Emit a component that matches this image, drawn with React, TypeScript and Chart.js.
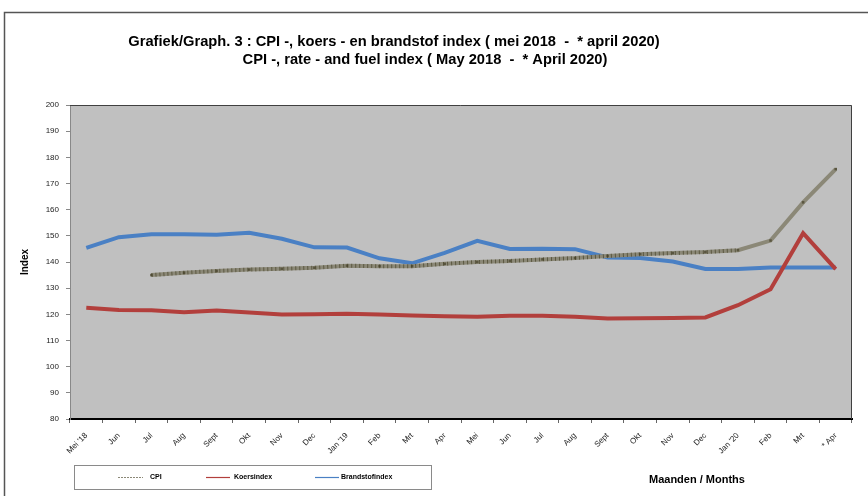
import React, { useEffect, useRef } from "react";
import { Chart, registerables } from "chart.js";

Chart.register(...registerables);

const months = [
  "Mei '18", "Jun", "Jul", "Aug", "Sept", "Okt", "Nov", "Dec",
  "Jan '19", "Feb", "Mrt", "Apr", "Mei", "Jun", "Jul", "Aug",
  "Sept", "Okt", "Nov", "Dec", "Jan '20", "Feb", "Mrt", "* Apr",
];

const cpi = [
  null, null, 135.0, 135.9, 136.6, 137.1, 137.4, 137.8,
  138.6, 138.4, 138.4, 139.3, 140.0, 140.4, 141.0, 141.5,
  142.3, 143.0, 143.4, 143.8, 144.5, 148.2, 162.8, 175.5,
];

const koersindex = [
  122.5, 121.7, 121.6, 120.8, 121.5, 120.7, 119.9, 120.0,
  120.2, 119.9, 119.6, 119.3, 119.1, 119.5, 119.5, 119.1,
  118.4, 118.5, 118.6, 118.8, 123.5, 129.6, 151.0, 137.3,
];

const brandstofindex = [
  145.4, 149.5, 150.6, 150.6, 150.4, 151.2, 148.9, 145.6,
  145.5, 141.4, 139.5, 143.5, 148.1, 145.0, 145.1, 144.9,
  141.7, 141.5, 140.2, 137.3, 137.3, 137.9, 137.9, 137.9,
];

const seriesNames = ["CPI", "Koersindex", "Brandstofindex"];
const titleLine1 = "Grafiek/Graph. 3 : CPI -, koers - en brandstof index ( mei 2018  -  * april 2020)";
const titleLine2 = "CPI -, rate - and fuel index ( May 2018  -  * April 2020)";
const xTitle = "Maanden / Months";
const yTitle = "Index";

const CPI_COLOR = "#8b8877";
const KOERS_COLOR = "#b23f3c";
const BRAND_COLOR = "#4a80c4";

const decorPlugin = {
  id: "decor",
  beforeDraw(chart: any) {
    const { ctx, chartArea } = chart;
    ctx.save();
    ctx.fillStyle = "#ffffff";
    ctx.fillRect(0, 0, chart.width, chart.height);
    ctx.fillStyle = "#c0c0c0";
    ctx.fillRect(chartArea.left, chartArea.top, chartArea.right - chartArea.left, chartArea.bottom - chartArea.top);
    ctx.restore();
  },
  afterDraw(chart: any) {
    const { ctx, chartArea } = chart;
    ctx.save();
    // outer frame
    ctx.strokeStyle = "#555555";
    ctx.lineWidth = 1.5;
    ctx.beginPath();
    ctx.moveTo(4.5, 496);
    ctx.lineTo(4.5, 12.5);
    ctx.lineTo(868, 12.5);
    ctx.stroke();
    // plot top/right border
    ctx.strokeStyle = "#404040";
    ctx.lineWidth = 1;
    ctx.beginPath();
    ctx.moveTo(chartArea.left, chartArea.top + 0.5);
    ctx.lineTo(chartArea.right - 0.5, chartArea.top + 0.5);
    ctx.lineTo(chartArea.right - 0.5, chartArea.bottom);
    ctx.stroke();

    // title
    ctx.fillStyle = "#000000";
    ctx.textBaseline = "alphabetic";
    ctx.textAlign = "center";
    ctx.font = "bold 14.7px 'Liberation Sans Narrow', 'Arial Narrow', 'Liberation Sans', sans-serif";
    ctx.fillText(titleLine1, 394, 46);
    ctx.fillText(titleLine2, 425, 64);

    // legend box
    ctx.strokeStyle = "#8a8a8a";
    ctx.lineWidth = 1;
    ctx.strokeRect(74.5, 465.5, 357, 24);
    const legendY = 477.5;
    const items = [
      { x1: 118, x2: 143, tx: 150, color: CPI_COLOR, dash: [2, 1] },
      { x1: 206, x2: 230, tx: 234, color: KOERS_COLOR, dash: [] },
      { x1: 315, x2: 339, tx: 341, color: BRAND_COLOR, dash: [] },
    ];
    items.forEach((it, i) => {
      ctx.strokeStyle = it.color;
      ctx.lineWidth = 1.2;
      ctx.setLineDash(it.dash);
      ctx.beginPath();
      ctx.moveTo(it.x1, legendY);
      ctx.lineTo(it.x2, legendY);
      ctx.stroke();
      ctx.setLineDash([]);
      ctx.fillStyle = "#000000";
      ctx.textAlign = "left";
      ctx.textBaseline = "middle";
      ctx.font = "bold 7px 'Liberation Sans', Arial, sans-serif";
      ctx.fillText(seriesNames[i], it.tx, legendY);
    });

    // x axis title
    ctx.textAlign = "left";
    ctx.textBaseline = "alphabetic";
    ctx.font = "bold 11px 'Liberation Sans', Arial, sans-serif";
    ctx.fillText(xTitle, 649, 483);
    ctx.restore();
  },
};

export default function App() {
  const canvasRef = useRef<HTMLCanvasElement | null>(null);

  useEffect(() => {
    if (!canvasRef.current) return;
    const chart = new Chart(canvasRef.current, {
      type: "line",
      data: {
        labels: months,
        datasets: [
          {
            label: "CPI hatch",
            data: cpi,
            borderColor: "rgba(60,56,30,0.6)",
            borderWidth: 4,
            borderDash: [1, 3],
            pointRadius: 0,
            tension: 0,
            order: 0,
            segment: {
              borderColor: (c: any) => (c.p0DataIndex >= 20 ? "rgba(0,0,0,0)" : "rgba(60,56,30,0.6)"),
            },
          },
          {
            label: seriesNames[0],
            data: cpi,
            borderColor: CPI_COLOR,
            borderWidth: 4,
            pointStyle: "rect",
            pointRadius: 1.8,
            pointBackgroundColor: "#5a5640",
            pointBorderWidth: 0,
            tension: 0,
            order: 1,
          },
          {
            label: seriesNames[1],
            data: koersindex,
            borderColor: KOERS_COLOR,
            borderWidth: 4,
            pointRadius: 0,
            tension: 0,
            order: 2,
          },
          {
            label: seriesNames[2],
            data: brandstofindex,
            borderColor: BRAND_COLOR,
            borderWidth: 4,
            pointRadius: 0,
            tension: 0,
            order: 3,
          },
        ],
      },
      options: {
        animation: false,
        responsive: false,
        devicePixelRatio: 1,
        events: [],
        layout: { padding: { top: 105, right: 16, left: 0, bottom: 0 } },
        plugins: {
          legend: { display: false },
          title: { display: false },
          tooltip: { enabled: false },
        },
        scales: {
          x: {
            type: "category",
            offset: true,
            grid: {
              offset: true,
              drawOnChartArea: false,
              tickLength: 4,
              color: "#666666",
            },
            border: { color: "#000000", width: 2 },
            ticks: {
              autoSkip: false,
              maxRotation: 45,
              minRotation: 45,
              padding: 8,
              color: "#222222",
              font: { size: 8, family: "'Liberation Sans', Arial, sans-serif" },
            },
            afterFit: (s: any) => {
              s.height = 77;
            },
          },
          y: {
            min: 80,
            max: 200,
            ticks: {
              stepSize: 10,
              padding: 7,
              color: "#222222",
              font: { size: 8, family: "'Liberation Sans', Arial, sans-serif" },
            },
            grid: {
              drawOnChartArea: false,
              tickLength: 4,
              color: "#888888",
            },
            border: { color: "#888888", width: 1 },
            title: {
              display: true,
              text: yTitle,
              color: "#000000",
              font: { size: 10, weight: "bold", family: "'Liberation Sans', Arial, sans-serif" },
              padding: { top: 19, bottom: 0 },
            },
            afterFit: (s: any) => {
              s.width = 70;
            },
          },
        },
      },
      plugins: [decorPlugin],
    } as any);
    return () => chart.destroy();
  }, []);

  return (
    <div style={{ position: "absolute", left: 0, top: 0, width: 868, height: 496 }}>
      <canvas ref={canvasRef} width={868} height={496} style={{ width: 868, height: 496, display: "block" }} />
    </div>
  );
}
